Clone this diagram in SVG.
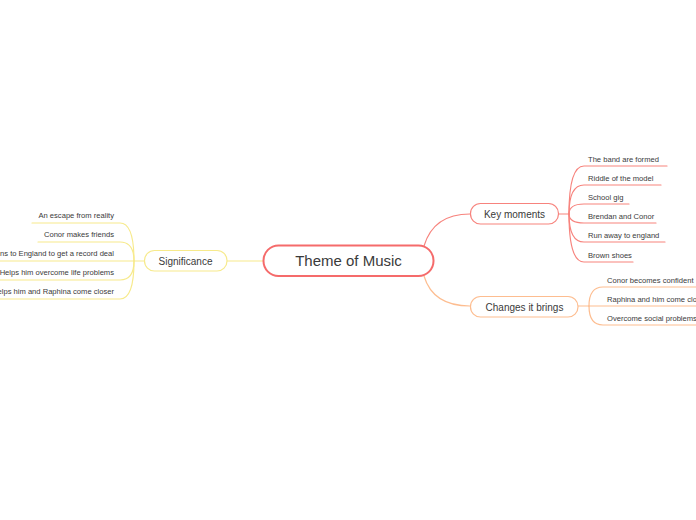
<svg xmlns="http://www.w3.org/2000/svg" width="696" height="520" viewBox="0 0 696 520">
<style>
text{font-family:"Liberation Sans",Arial,sans-serif;fill:#3a3a3a}
.c{font-size:7.6px}
.m{font-size:10px;text-anchor:middle}
.t{font-size:15px;text-anchor:middle}
.l{fill:none;stroke-width:1.2;stroke-linecap:round}
.r{stroke:#f7837d}
.o{stroke:#fdbd90}
.y{stroke:#f7ea8c}
</style>
<rect width="696" height="520" fill="#ffffff"/>
<g id="connectors">
<path class="l y" d="M227,261 L263,261"/>
<path class="l r" d="M424,246 C430,226 445,214 470,214"/>
<path class="l o" d="M424,276 C430,296 445,306 470,306"/>
<path class="l r" d="M559,214 L569,214"/>
<path class="l r" d="M569,214 Q569,166 584,166 L667,166"/>
<path class="l r" d="M569,214 Q569,185 584,185 L661,185"/>
<path class="l r" d="M569,214 Q569,204 584,204 L629,204"/>
<path class="l r" d="M569,214 Q569,223 584,223 L656,223"/>
<path class="l r" d="M569,214 Q569,242 584,242 L665,242"/>
<path class="l r" d="M569,214 Q569,262 584,262 L633,262"/>
<path class="l o" d="M578,306 L589,306"/>
<path class="l o" d="M589,306 Q589,287 603,287 L700,287"/>
<path class="l o" d="M589,306 L700,306"/>
<path class="l o" d="M589,306 Q589,325 603,325 L700,325"/>
<path class="l y" d="M144,261 L134,261"/>
<path class="l y" d="M134,261 Q134,223 120,223 L32,223"/>
<path class="l y" d="M134,261 Q134,242 120,242 L38,242"/>
<path class="l y" d="M134,261 L-5,261"/>
<path class="l y" d="M134,261 Q134,280 120,280 L-5,280"/>
<path class="l y" d="M134,261 Q134,299 120,299 L-5,299"/>
</g>
<g id="central">
<rect x="263.5" y="245.5" width="170" height="30.5" rx="15" fill="#ffffff" stroke="#f56b6b" stroke-width="2"/>
<text class="t" x="348.5" y="266">Theme of Music</text>
</g>
<g id="key-moments">
<rect x="470.5" y="203.5" width="88" height="20.5" rx="10" fill="#ffffff" stroke="#f7837d" stroke-width="1.2"/>
<text class="m" x="514.5" y="217.5">Key moments</text>
</g>
<g id="changes">
<rect x="470.5" y="296.5" width="107.5" height="20.5" rx="10" fill="#ffffff" stroke="#fdbd90" stroke-width="1.2"/>
<text class="m" x="524.5" y="310.5">Changes it brings</text>
</g>
<g id="significance">
<rect x="144.5" y="250.5" width="82.5" height="20.5" rx="10" fill="#ffffff" stroke="#f7ea8c" stroke-width="1.2"/>
<text class="m" x="185.5" y="264.5">Significance</text>
</g>
<g id="km-children">
<text class="c" x="588" y="161.5">The band are formed</text>
<text class="c" x="588" y="180.5">Riddle of the model</text>
<text class="c" x="588" y="199.5">School gig</text>
<text class="c" x="588" y="218.5">Brendan and Conor</text>
<text class="c" x="588" y="237.5">Run away to england</text>
<text class="c" x="588" y="257.5">Brown shoes</text>
</g>
<g id="ch-children">
<text class="c" x="607" y="283">Conor becomes confident</text>
<text class="c" x="607" y="302">Raphina and him come closer</text>
<text class="c" x="607" y="321">Overcome social problems</text>
</g>
<g id="sig-children">
<text class="c" x="114" y="218" text-anchor="end">An escape from reality</text>
<text class="c" x="114" y="237" text-anchor="end">Conor makes friends</text>
<text class="c" x="114" y="256" text-anchor="end">Runs to England to get a record deal</text>
<text class="c" x="114" y="275" text-anchor="end">Helps him overcome life problems</text>
<text class="c" x="114" y="294" text-anchor="end">Helps him and Raphina come closer</text>
</g>
</svg>
